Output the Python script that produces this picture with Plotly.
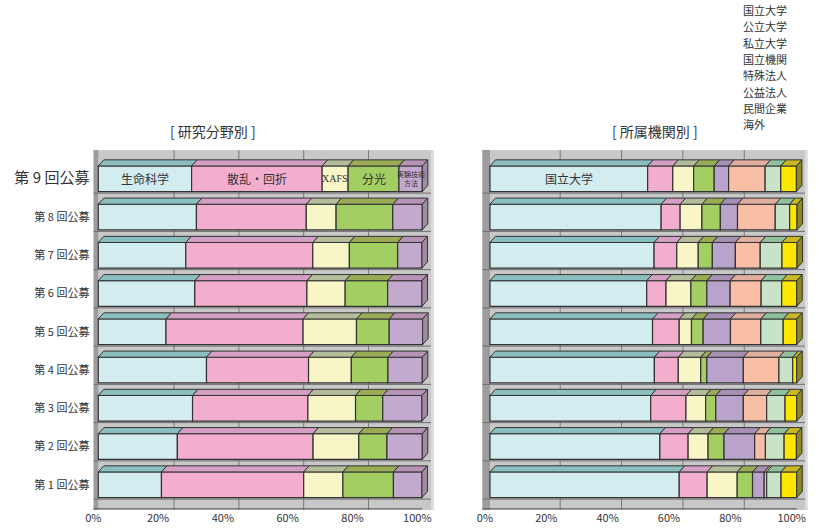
import plotly.graph_objects as go

# ---------------- data ----------------
rounds = ["第 1 回公募", "第 2 回公募", "第 3 回公募", "第 4 回公募", "第 5 回公募",
          "第 6 回公募", "第 7 回公募", "第 8 回公募", "第 9 回公募"]

field_names = ["生命科学", "散乱・回折", "XAFS", "分光", "実験技術・方法"]
field_labels = ["生命科学", "散乱・回折", "XAFS", "分光", "実験技術<br>方法"]
life_sci   = [19.5, 24.4, 29.1, 33.4, 20.9, 29.8, 27.0, 30.3, 28.8]
scattering = [43.9, 41.9, 35.6, 31.5, 42.3, 34.6, 39.2, 33.9, 40.3]
xafs       = [12.1, 14.1, 14.7, 13.2, 16.5, 11.8, 11.3, 9.2, 8.0]
spectro    = [15.6, 8.7, 8.4, 11.3, 10.1, 13.1, 14.9, 17.5, 15.7]
method     = [8.8, 10.9, 12.1, 10.6, 10.3, 10.6, 7.5, 9.1, 7.2]
field_values = [life_sci, scattering, xafs, spectro, method]

org_names = ["国立大学", "公立大学", "私立大学", "国立機関", "特殊法人", "公益法人", "民間企業", "海外"]
org_labels = ["国立大学", "", "", "", "", "", "", ""]
nat_univ   = [61.7, 55.4, 52.4, 53.6, 53.0, 51.1, 53.5, 55.8, 51.4]
pub_univ   = [9.1, 9.2, 11.5, 7.8, 8.7, 6.3, 7.4, 6.2, 8.2]
priv_univ  = [9.8, 6.5, 6.4, 7.3, 4.0, 8.1, 7.0, 7.1, 6.8]
nat_inst   = [5.0, 5.2, 3.3, 2.0, 3.8, 5.2, 4.6, 6.0, 6.7]
special    = [3.8, 10.0, 9.0, 11.9, 8.9, 7.6, 7.5, 5.6, 4.7]
public_corp = [0.8, 3.5, 7.6, 11.6, 9.9, 10.1, 8.1, 12.3, 11.9]
private_co = [4.7, 6.1, 6.0, 4.5, 7.3, 6.7, 7.1, 4.7, 5.1]
overseas   = [5.1, 4.0, 3.8, 1.3, 4.4, 4.9, 4.9, 2.4, 5.1]
org_values = [nat_univ, pub_univ, priv_univ, nat_inst, special, public_corp, private_co, overseas]

x_ticks = [0, 20, 40, 60, 80, 100]
x_ticktext = ["0%", "20%", "40%", "60%", "80%", "100%"]

# ---------------- styles ----------------
field_front = ["#d3ecf0", "#f4aecd", "#f8f6c6", "#a3cf62", "#c4a9cf"]
field_top   = ["#8bbfbf", "#d49fc3", "#b3bd9c", "#9aab56", "#b693b5"]
field_side  = "#a38aa4"
field_lblfont = [("Noto Sans CJK JP", 12), ("Noto Sans CJK JP", 12), ("Liberation Sans Narrow", 10),
                 ("Noto Sans CJK JP", 12), ("Noto Sans CJK JP", 7)]
org_front = ["#d3ecf0", "#f4aecd", "#f8f6c6", "#a3cf62", "#b9a3cb", "#f9bea6", "#c8e3c8", "#ffe600"]
org_top   = ["#8bbfbf", "#d49fc3", "#b3bd9c", "#9aab56", "#a58fb3", "#e0ae9e", "#8fc19f", "#c8b826"]
org_side  = "#8c8a1f"
org_lblfont = [("Noto Sans CJK JP", 12)] * 8
EDGE = "#333333"
FONT = "Noto Sans CJK JP"
BAR_W = 0.67
Y_RANGE = [-0.66, 8.75]

ypos = list(range(len(rounds)))
ticktext_y = [r if i < len(rounds) - 1 else
              "<span style='font-size:15px'>" + r + "</span>" for i, r in enumerate(rounds)]

fig = go.Figure()
annotations = []


def add_chart(names, labels, lblfont, values, front, top, side, xa, ya, dx, dy):
    n = len(ypos)
    cum = [0.0] * n
    starts = []
    for k, (nm, vals) in enumerate(zip(names, values)):
        starts.append(list(cum))
        fig.add_trace(go.Bar(
            y=ypos, x=vals, base=list(cum), orientation="h", width=BAR_W,
            name=nm, marker=dict(color=front[k], line=dict(color=EDGE, width=1.2)),
            xaxis=xa, yaxis=ya, showlegend=False, hoverinfo="x+name"))
        if labels[k]:
            annotations.append(dict(
                text=labels[k], x=cum[n - 1] + vals[n - 1] / 2, y=ypos[n - 1],
                xref=xa, yref=ya, showarrow=False, xanchor="center", yanchor="middle",
                font=dict(family=lblfont[k][0], size=lblfont[k][1], color="#333333")))
        cum = [c + v for c, v in zip(cum, vals)]
    h = BAR_W / 2
    # top faces
    for k, vals in enumerate(values):
        xs, ys = [], []
        for i in range(n):
            x0 = starts[k][i]
            x1 = x0 + vals[i]
            yt = ypos[i] + h
            xs += [x0, x1, x1 + dx, x0 + dx, x0, None]
            ys += [yt, yt, yt + dy, yt + dy, yt, None]
        fig.add_trace(go.Scatter(x=xs, y=ys, mode="lines", fill="toself",
                                 fillcolor=top[k], line=dict(color=EDGE, width=1),
                                 xaxis=xa, yaxis=ya, showlegend=False, hoverinfo="skip"))
    # side face of the last segment
    xs, ys = [], []
    for i in range(n):
        xe = cum[i]
        yb, yt = ypos[i] - h, ypos[i] + h
        xs += [xe, xe + dx, xe + dx, xe, xe, None]
        ys += [yb, yb + dy, yt + dy, yt, yb, None]
    fig.add_trace(go.Scatter(x=xs, y=ys, mode="lines", fill="toself",
                             fillcolor=side, line=dict(color=EDGE, width=1),
                             xaxis=xa, yaxis=ya, showlegend=False, hoverinfo="skip"))


add_chart(field_names, field_labels, field_lblfont, field_values, field_front, field_top,
          field_side, "x", "y", 1.7, 0.16)
add_chart(org_names, org_labels, org_lblfont, org_values, org_front, org_top,
          org_side, "x2", "y2", 1.8, 0.16)

# back-wall grid lines, side walls and floor edge (decoration)
shapes = []
for xr, yr, off, x0, x1 in [("x", "y", 3.4, -1.5, 103.5), ("x2", "y2", 2.9, -2.5, 103.5)]:
    shapes.append(dict(type="rect", xref=xr, yref=yr, x0=x0, x1=0, y0=Y_RANGE[0], y1=Y_RANGE[1],
                       fillcolor="#9c9c9c", line=dict(width=0), layer="below"))
    shapes.append(dict(type="rect", xref=xr, yref=yr, x0=x1 - 0.8, x1=x1, y0=Y_RANGE[0],
                       y1=Y_RANGE[1], fillcolor="#dcdcdc", line=dict(width=0), layer="below"))
    for v in x_ticks[1:-1]:
        shapes.append(dict(type="line", xref=xr, yref=yr, x0=v + off, x1=v + off,
                           y0=Y_RANGE[0], y1=Y_RANGE[1], line=dict(color="#7a7a7a", width=1),
                           layer="below"))
    for yv in ypos:
        shapes.append(dict(type="line", xref=xr, yref=yr, x0=x0, x1=x1 - 0.8,
                           y0=yv - BAR_W / 2 - 0.04, y1=yv - BAR_W / 2 - 0.04,
                           line=dict(color="#6e6e6e", width=1), layer="below"))
    shapes.append(dict(type="line", xref=xr, yref=yr, x0=x0, x1=100,
                       y0=Y_RANGE[0] + 0.03, y1=Y_RANGE[0] + 0.03,
                       line=dict(color="#555555", width=1), layer="below"))

annotations += [
    dict(text="[ 研究分野別 ]", x=0.2604, y=(531 - 131) / 531, xref="paper", yref="paper",
         xanchor="center", yanchor="middle",
         showarrow=False, font=dict(family=FONT, size=14, color="#333333")),
    dict(text="[ 所属機関別 ]", x=0.8007, y=(531 - 131) / 531, xref="paper", yref="paper",
         xanchor="center", yanchor="middle",
         showarrow=False, font=dict(family=FONT, size=14, color="#333333")),
]
for i, nm in enumerate(org_names):
    annotations.append(dict(text=nm, x=741 / 818, xanchor="left",
                            y=(531 - (10 + i * 16.3)) / 531, yanchor="middle",
                            xref="paper", yref="paper", showarrow=False,
                            font=dict(family=FONT, size=11, color="#333333")))

xcommon = dict(tickvals=x_ticks, ticktext=x_ticktext, showgrid=False, zeroline=False,
               showline=False, ticks="", tickfont=dict(family=FONT, size=11, color="#333333"),
               fixedrange=True)
ycommon = dict(range=Y_RANGE, showgrid=False, zeroline=False, showline=False, ticks="",
               fixedrange=True)

Y_DOMAIN = [21 / 531, (531 - 150.1) / 531]

fig.update_layout(
    width=818, height=531, margin=dict(l=0, r=0, t=0, b=0, autoexpand=False),
    paper_bgcolor="white", plot_bgcolor="#c8c8c8", barmode="overlay",
    font=dict(family=FONT, color="#333333"),
    xaxis=dict(domain=[0.1142, 0.5301], range=[-1.5, 103.5], anchor="y",
               ticklabelshift=-5, **xcommon),
    yaxis=dict(domain=Y_DOMAIN, anchor="x", tickvals=ypos, ticktext=ticktext_y,
               tickfont=dict(family=FONT, size=11, color="#333333"), ticklabelstandoff=3,
               **ycommon),
    xaxis2=dict(domain=[0.5896, 0.9871], range=[-2.5, 103.5], anchor="y2",
                ticklabelshift=-5, **xcommon),
    yaxis2=dict(domain=Y_DOMAIN, anchor="x2", showticklabels=False, **ycommon),
    shapes=shapes, annotations=annotations, showlegend=False,
)

fig.write_html("out.html", config={"displayModeBar": False},
               post_script="document.body.style.margin='0';")
